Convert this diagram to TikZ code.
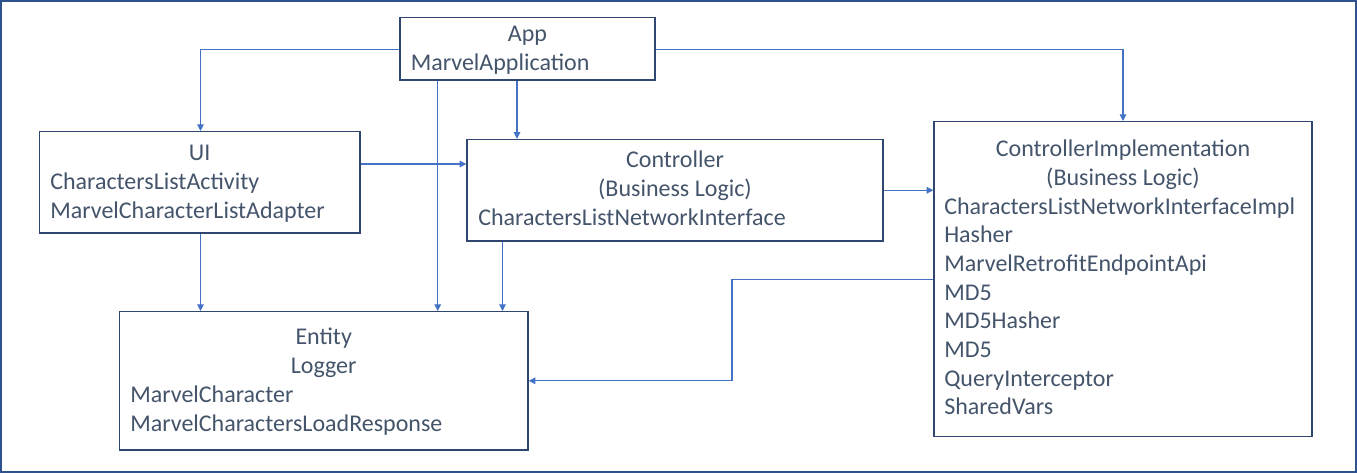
\documentclass[tikz,border=0pt]{standalone}
\usepackage{fontspec}
\setmainfont{Carlito}
\usetikzlibrary{fit,arrows.meta}
\definecolor{txtc}{HTML}{44546A}
\definecolor{boxc}{HTML}{2F4770}
\definecolor{connc}{HTML}{4472C4}
\definecolor{outc}{HTML}{2F528F}
\tikzset{
  box/.style={draw=boxc, line width=1.1pt, inner sep=0pt},
  ctxt/.style={anchor=base, inner sep=0pt, text=txtc, font=\fontsize{18pt}{21.5pt}\selectfont},
  ltxt/.style={anchor=base west, inner sep=0pt, text=txtc, font=\fontsize{18pt}{21.5pt}\selectfont},
  conn/.style={draw=connc, line width=0.8pt, -{Triangle[length=5pt,width=5pt]}},
}
\begin{document}
\begin{tikzpicture}[x=0.75pt,y=-0.75pt]
\useasboundingbox (0,0) rectangle (1357,473);
\draw[outc, line width=1.3pt] (1.2,1.2) rectangle (1355.8,471.8);

% boxes
\node[box, fit={(400,17.3) (655,80)}] (app) {};
\node[box, fit={(39.3,131.7) (360,233)}] (ui) {};
\node[box, fit={(467,139.5) (883,241)}] (ctrl) {};
\node[box, fit={(934,121.7) (1312,436.7)}] (ci) {};
\node[box, fit={(119.5,311.7) (528,450)}] (ent) {};

% texts
\node[ctxt] (t-app) at (527.5,41.7) {App};
\node[ltxt] (t-mapp) at (410.5,70.6) {MarvelApplication};

\node[ctxt] (t-ui) at (199.7,160.7) {UI};
\node[ltxt] (t-cla) at (50,189.5) {CharactersListActivity};
\node[ltxt] (t-mcla) at (50,218.3) {MarvelCharacterListAdapter};

\node[ctxt] (t-ctrl) at (675,168) {Controller};
\node[ctxt] (t-bl1) at (675,196.8) {(Business Logic)};
\node[ltxt] (t-clni) at (478,225.6) {CharactersListNetworkInterface};

\node[ctxt] (t-ci) at (1123,156.7) {ControllerImplementation};
\node[ctxt] (t-bl2) at (1123,185.4) {(Business Logic)};
\node[ltxt] (t-c1) at (944,214.1) {CharactersListNetworkInterfaceImpl};
\node[ltxt] (t-c2) at (944,242.8) {Hasher};
\node[ltxt] (t-c3) at (944,271.5) {MarvelRetrofitEndpointApi};
\node[ltxt] (t-c4) at (944,300.2) {MD5};
\node[ltxt] (t-c5) at (944,328.9) {MD5Hasher};
\node[ltxt] (t-c6) at (944,357.6) {MD5};
\node[ltxt] (t-c7) at (944,386.3) {QueryInterceptor};
\node[ltxt] (t-c8) at (944,415) {SharedVars};

\node[ctxt] (t-ent) at (323.7,345) {Entity};
\node[ctxt] (t-log) at (323.7,373.7) {Logger};
\node[ltxt] (t-mc) at (130,402.4) {MarvelCharacter};
\node[ltxt] (t-mclr) at (130,431.1) {MarvelCharactersLoadResponse};

% helper coordinates
\coordinate (xa) at (517,0);
\coordinate (xb) at (437.7,0);
\coordinate (xc) at (502.5,0);
\coordinate (xd) at (732,0);
\coordinate (xe) at (200.5,0);
\coordinate (ya) at (0,49.5);
\coordinate (yb) at (0,164);
\coordinate (yc) at (0,279.5);
\coordinate (yd) at (0,380.8);

% connectors
\draw[conn] (app.west |- ya) -| (ui.north -| xe);
\draw[conn] (app.east |- ya) -| (ci.north);
\draw[conn] (app.south -| xa) -- (ctrl.north -| xa);
\draw[conn] (app.south -| xb) -- (ent.north -| xb);
\draw[conn] (ui.east |- yb) -- (ctrl.west |- yb);
\draw[conn] (ui.south -| xe) -- (ent.north -| xe);
\draw[conn] (ctrl.south -| xc) -- (ent.north -| xc);
\draw[conn] (ctrl.east) -- (ctrl.east -| ci.west);
\draw[conn] (ci.west |- yc) -| (xd |- yd) -- (ent.east |- yd);
\end{tikzpicture}
\end{document}
